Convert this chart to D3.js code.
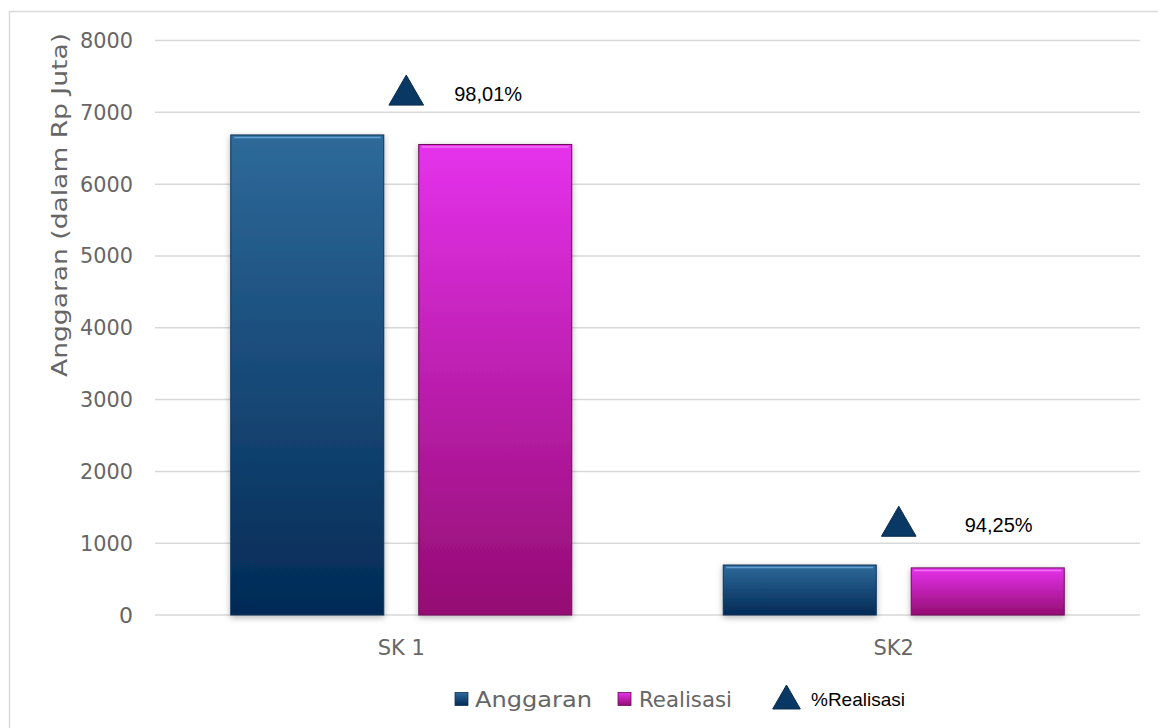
<!DOCTYPE html>
<html>
<head>
<meta charset="utf-8">
<script src="https://cdn.jsdelivr.net/npm/d3@7"></script>
<style>
  body { margin: 0; background: #fff; }
  svg { display: block; }
</style>
</head>
<body>
<script>
// chart data
var categories = ["SK 1", "SK2"];
var seriesNames = ["Anggaran", "Realisasi"];
var anggaran = [6685, 696];
var realisasi = [6552, 656];
var pctRealisasi = [98.01, 94.25];
var pctLabels = ["98,01%", "94,25%"];
var yTicks = [0, 1000, 2000, 3000, 4000, 5000, 6000, 7000, 8000];

// layout
var w = 1158, h = 728;
var plotLeft = 155, plotRight = 1140, plotTop = 40.5, plotBottom = 615;
var labelNudge = [48, 66];
var grey = "#666666";
var font = "'DejaVu Sans', sans-serif";

var svg = d3.select("body").append("svg")
    .attr("width", w)
    .attr("height", h)
    .attr("class", "container");

var defs = svg.append("defs");

function grad(id, c1, c2) {
  var g = defs.append("linearGradient").attr("id", id)
      .attr("x1", 0).attr("y1", 0).attr("x2", 0).attr("y2", 1);
  g.append("stop").attr("offset", "0%").attr("stop-color", c1);
  g.append("stop").attr("offset", "100%").attr("stop-color", c2);
}
grad("gA", "#2e6a9a", "#022a56");
grad("gR", "#e532ec", "#940c72");

var colors = { Anggaran: "url(#gA)", Realisasi: "url(#gR)" };
var hilite = { Anggaran: "#6aa6da", Realisasi: "#f27af5" };
var edge = { Anggaran: "#0f3358", Realisasi: "#6e0a58" };

var f = defs.append("filter").attr("id", "shadow")
    .attr("x", "-10%").attr("y", "-10%").attr("width", "120%").attr("height", "130%");
f.append("feDropShadow").attr("dx", 0).attr("dy", 2)
    .attr("stdDeviation", 3).attr("flood-color", "#000").attr("flood-opacity", 0.3);

// outer border
svg.append("rect")
    .attr("x", 9.5).attr("y", 11.5)
    .attr("width", 1160).attr("height", 730)
    .attr("fill", "none")
    .attr("stroke", "#d9d9d9")
    .attr("stroke-width", 1.5);

// scales
var x0 = d3.scaleBand().domain(categories).range([plotLeft, plotRight]);
var x1 = d3.scaleBand().domain(seriesNames).range([-170.5, 170.5]).paddingInner(0.186);
var y = d3.scaleLinear().domain([0, 8000]).range([plotBottom, plotTop]);
// hidden secondary axis for %Realisasi markers
var y2 = d3.scaleLinear().domain([93.45, 98.46]).range([plotBottom, plotTop]);

// gridlines
svg.append("g").attr("class", "grid")
  .selectAll("line").data(yTicks).join("line")
    .attr("x1", plotLeft).attr("x2", plotRight)
    .attr("y1", function(d){ return y(d); })
    .attr("y2", function(d){ return y(d); })
    .attr("stroke", "#d9d9d9")
    .attr("stroke-width", 1.5);

// y axis labels
var yAxis = svg.append("g")
    .attr("transform", "translate(" + (plotLeft - 22) + ",0)")
    .call(d3.axisLeft(y).tickValues(yTicks).tickFormat(d3.format("d")).tickSize(0).tickPadding(0));
yAxis.select(".domain").remove();
yAxis.selectAll("text")
    .attr("fill", grey)
    .attr("textLength", 53)
    .attr("lengthAdjust", "spacingAndGlyphs")
    .style("font-family", font)
    .style("font-size", "22px");
yAxis.selectAll("text").filter(function(d){ return d === 0; }).attr("textLength", null);

// x axis labels
var xAxis = svg.append("g")
    .attr("transform", "translate(0," + plotBottom + ")")
    .call(d3.axisBottom(x0).tickSize(0).tickPadding(0));
xAxis.select(".domain").remove();
xAxis.selectAll("text")
    .attr("dy", 0).attr("y", 40)
    .attr("fill", grey)
    .style("font-family", font)
    .style("font-size", "21px");

// y axis title
svg.append("text")
    .attr("transform", "translate(67,205) rotate(-90)")
    .attr("text-anchor", "middle")
    .attr("textLength", 344)
    .attr("lengthAdjust", "spacingAndGlyphs")
    .attr("fill", grey)
    .style("font-family", font)
    .style("font-size", "22px")
    .text("Anggaran (dalam Rp Juta)");

// bars
var rows = categories.map(function(c, i){
  return { cat: c, values: [
    { key: "Anggaran", value: anggaran[i] },
    { key: "Realisasi", value: realisasi[i] }
  ]};
});

var groups = svg.append("g").attr("class", "bars")
  .selectAll("g").data(rows).join("g")
    .attr("transform", function(d){ return "translate(" + (x0(d.cat) + x0.bandwidth() / 2) + ",0)"; });

var bar = groups.selectAll("g").data(function(d){ return d.values; }).join("g");

bar.append("rect")
    .attr("x", function(d){ return x1(d.key); })
    .attr("y", function(d){ return y(d.value); })
    .attr("width", x1.bandwidth())
    .attr("height", function(d){ return y(0) - y(d.value); })
    .attr("fill", function(d){ return colors[d.key]; })
    .attr("stroke", function(d){ return edge[d.key]; })
    .attr("stroke-width", 1)
    .attr("filter", "url(#shadow)");

// bevel highlight along the top
bar.append("line")
    .attr("x1", function(d){ return x1(d.key) + 3; })
    .attr("x2", function(d){ return x1(d.key) + x1.bandwidth() - 3; })
    .attr("y1", function(d){ return y(d.value) + 2.5; })
    .attr("y2", function(d){ return y(d.value) + 2.5; })
    .attr("stroke", function(d){ return hilite[d.key]; })
    .attr("stroke-width", 1.5)
    .attr("opacity", 0.9);

// %Realisasi markers
var tri = d3.symbol().type(d3.symbolTriangle).size(520);
var pts = svg.append("g").attr("class", "markers")
  .selectAll("g").data(categories).join("g")
    .attr("transform", function(d, i){
      return "translate(" + (x0(d) + x0.bandwidth() / 2 + 5) + "," + y2(pctRealisasi[i]) + ")";
    });
pts.append("path")
    .attr("d", tri)
    .attr("transform", "translate(0,3)")
    .attr("fill", "#083863")
    .attr("stroke", "#0a2c4e")
    .attr("stroke-width", 1);
pts.append("text")
    .attr("x", function(d, i){ return labelNudge[i]; })
    .attr("y", 9)
    .attr("fill", "#000")
    .style("font-family", "'Liberation Sans', Arial, sans-serif")
    .style("font-size", "20px")
    .text(function(d, i){ return pctLabels[i]; });

// legend
var legend = svg.append("g").attr("class", "legend");
var legItems = [
  { name: "Anggaran", x: 455, tx: 475, len: 117 },
  { name: "Realisasi", x: 618, tx: 639, len: 93 }
];
legItems.forEach(function(d){
  legend.append("rect")
      .attr("x", d.x).attr("y", 692.5)
      .attr("width", 13).attr("height", 13)
      .attr("fill", colors[d.name])
      .attr("stroke", edge[d.name])
      .attr("stroke-width", 0.8);
  legend.append("text")
      .attr("x", d.tx).attr("y", 707)
      .attr("textLength", d.len)
      .attr("lengthAdjust", "spacingAndGlyphs")
      .attr("fill", grey)
      .style("font-family", font)
      .style("font-size", "22px")
      .text(d.name);
});
legend.append("path")
    .attr("d", d3.symbol().type(d3.symbolTriangle).size(330))
    .attr("transform", "translate(786.5,701)")
    .attr("fill", "#083863")
    .attr("stroke", "#0a2c4e")
    .attr("stroke-width", 1);
legend.append("text")
    .attr("x", 811).attr("y", 706)
    .attr("fill", "#000")
    .style("font-family", "'Liberation Sans', Arial, sans-serif")
    .style("font-size", "19px")
    .text("%Realisasi");
</script>
</body>
</html>
